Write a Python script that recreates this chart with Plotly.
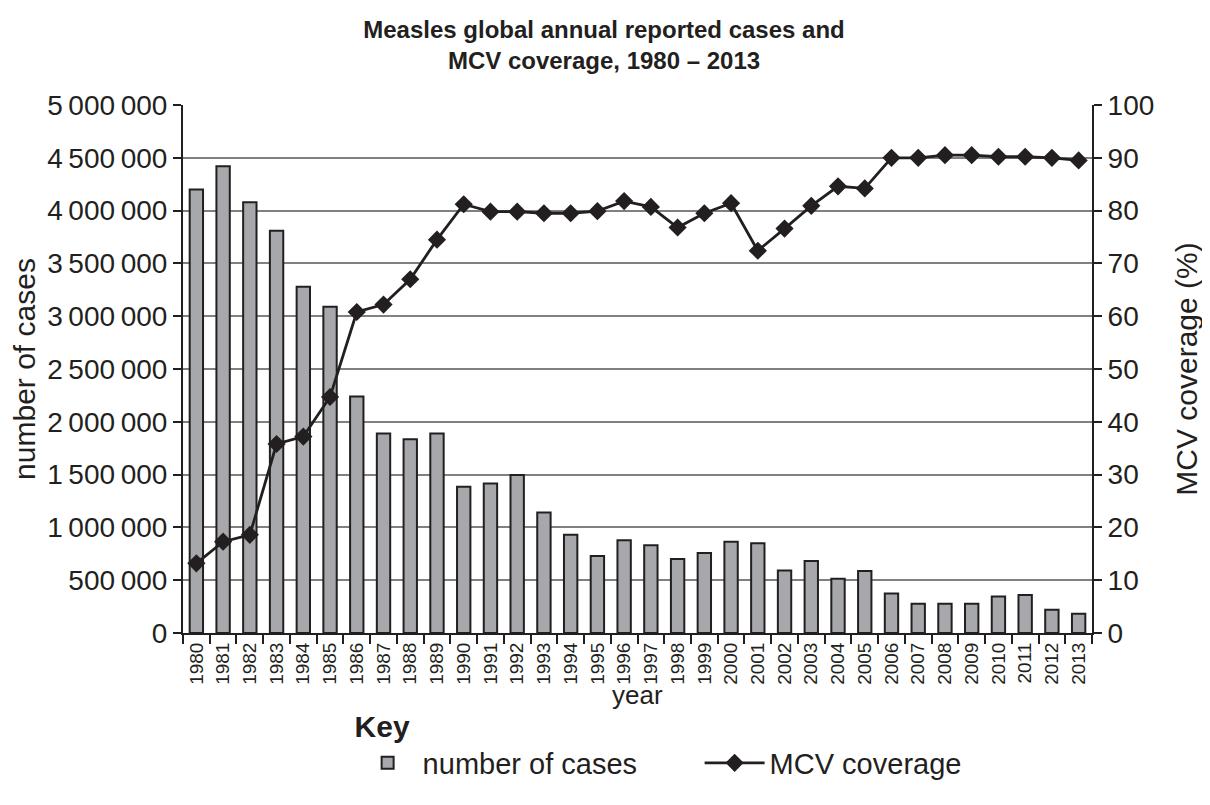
import plotly.graph_objects as go

years = [str(y) for y in range(1980, 2014)]
cases = [4200000, 4420000, 4080000, 3810000, 3280000, 3090000, 2240000, 1890000,
         1835000, 1890000, 1385000, 1415000, 1497000, 1140000, 930000, 730000,
         878000, 831000, 700000, 757000, 865000, 851000, 592000, 682000,
         514000, 588000, 375000, 277000, 277000, 277000, 345000, 361000,
         220000, 182000]
mcv = [13.2, 17.3, 18.6, 35.8, 37.2, 44.7, 60.8, 62.2, 67.0, 74.5,
       81.2, 79.8, 79.8, 79.5, 79.5, 79.9, 81.8, 80.7, 76.8, 79.5,
       81.4, 72.4, 76.6, 80.9, 84.6, 84.2, 90.0, 90.0, 90.5, 90.5,
       90.2, 90.2, 90.0, 89.5]
left_ticks = [0, 500000, 1000000, 1500000, 2000000, 2500000, 3000000,
              3500000, 4000000, 4500000, 5000000]
right_ticks = [0, 10, 20, 30, 40, 50, 60, 70, 80, 90, 100]

FONT = "Liberation Sans, Arial, sans-serif"
INK = "#231f20"
W, H = 1202, 797

fig = go.Figure()
fig.add_trace(go.Bar(
    x=years, y=cases, name="number of cases",
    marker=dict(color="#a7a8ac", line=dict(color=INK, width=2)),
    yaxis="y",
))
fig.add_trace(go.Scatter(
    x=years, y=mcv, name="MCV coverage", mode="lines+markers",
    line=dict(color=INK, width=2.8),
    marker=dict(symbol="diamond", size=14, color=INK),
    yaxis="y2",
))

fig.update_layout(
    width=W, height=H,
    margin=dict(l=175, r=118, t=97, b=172, autoexpand=False),
    paper_bgcolor="white", plot_bgcolor="white",
    separators=".\u2009",
    font=dict(family=FONT, color=INK, size=28),
    title=dict(
        text="<b>Measles global annual reported cases and<br>MCV coverage, 1980 \u2013 2013</b>",
        x=(604 - 8) / W, xanchor="center", xref="container",
        y=1 - 30 / H, yanchor="middle", yref="container",
        font=dict(size=24, family=FONT, color=INK),
    ),
    bargap=0.5,
    showlegend=True,
    legend=dict(
        orientation="h", x=0.1866, xanchor="left", y=-0.124, yanchor="top",
        title=dict(text="<b>Key</b>", side="top", font=dict(size=30)),
        font=dict(size=29), itemwidth=60, tracegroupgap=0,
        entrywidth=272, bgcolor="rgba(0,0,0,0)",
    ),
    annotations=[dict(
        text="year", xref="paper", yref="paper", x=0.5, y=-0.117,
        xanchor="center", yanchor="middle", showarrow=False,
        font=dict(size=26, family=FONT, color=INK),
    )],
    xaxis=dict(
        type="category", tickson="boundaries", range=[-0.5, 33.5],
        ticks="outside", ticklen=9, tickwidth=2, tickcolor=INK,
        tickangle=-90, tickfont=dict(size=19),
        showline=True, linecolor=INK, linewidth=2,
        showgrid=False,
    ),
    yaxis=dict(
        range=[0, 5000000], tickvals=left_ticks, tickformat=",d",
        ticks="outside", ticklen=8, tickwidth=2, tickcolor=INK,
        showline=True, linecolor=INK, linewidth=2,
        showgrid=True, gridcolor="#808080", gridwidth=1.5,
        zeroline=False, tickfont=dict(size=28),
        title=dict(text="number of cases", font=dict(size=30), standoff=8),
    ),
    yaxis2=dict(
        range=[0, 100], tickvals=right_ticks, overlaying="y", side="right",
        ticks="outside", ticklen=8, tickwidth=2, tickcolor=INK,
        showline=True, linecolor=INK, linewidth=2,
        showgrid=False, zeroline=False, tickfont=dict(size=28),
        title=dict(text="MCV coverage (%)", font=dict(size=30), standoff=23),
    ),
)

fig.write_html("out.html")
